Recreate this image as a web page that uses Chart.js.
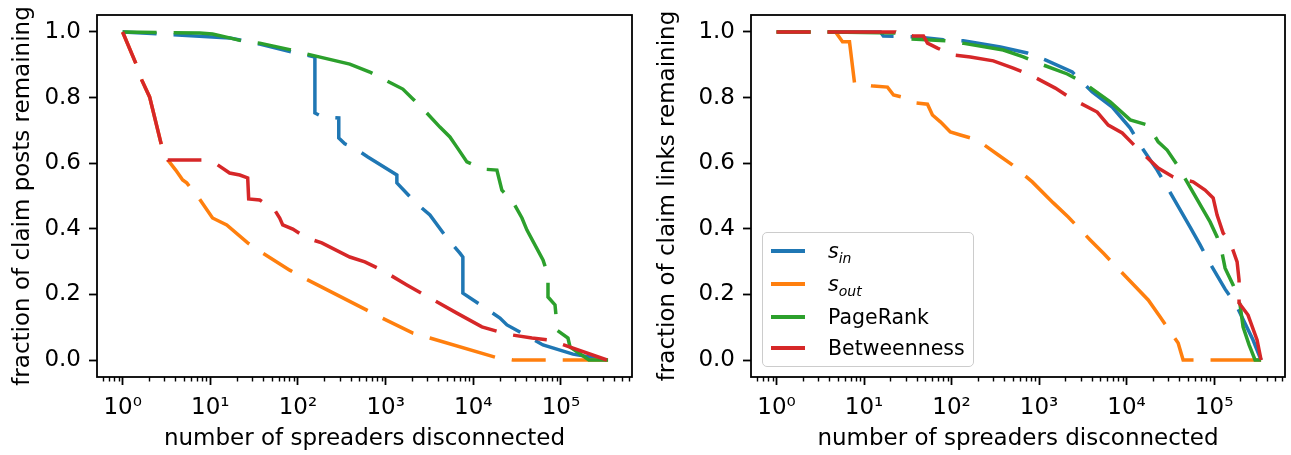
<!DOCTYPE html>
<html><head><meta charset="utf-8">
<script src="https://cdn.jsdelivr.net/npm/chart.js@4"></script>
<style>
html,body{margin:0;padding:0;background:#fff;}
#wrap{position:relative;width:1291px;height:455px;overflow:hidden;background:#fff;}
canvas{position:absolute;top:0;}
#c1{left:0;}
#c2{left:645px;}
.legend{position:absolute;left:762px;top:232px;width:212px;height:135px;border:1.5px solid #cccccc;border-radius:5px;background:rgba(255,255,255,0.8);box-sizing:border-box;font-family:'DejaVu Sans',sans-serif;font-size:20.5px;color:#000;z-index:5;}
.row{position:absolute;left:0;height:30px;width:100%;}
.sw{position:absolute;left:8px;width:34px;height:3.5px;top:-1.75px;}
.lab{position:absolute;left:65px;top:-13px;white-space:nowrap;line-height:26px;}
.lab sub{font-size:14px;vertical-align:-5px;}
</style>
</head><body>
<div id="wrap">
<canvas id="c1" width="645" height="455"></canvas>
<canvas id="c2" width="646" height="455"></canvas>
<div class="legend">
  <div class="row" style="top:18px"><div class="sw" style="background:#1f77b4"></div><div class="lab"><i>s</i><sub><i>in</i></sub></div></div>
  <div class="row" style="top:51px"><div class="sw" style="background:#ff7f0e"></div><div class="lab"><i>s</i><sub><i>out</i></sub></div></div>
  <div class="row" style="top:84px"><div class="sw" style="background:#2ca02c"></div><div class="lab">PageRank</div></div>
  <div class="row" style="top:115px"><div class="sw" style="background:#d62728"></div><div class="lab">Betweenness</div></div>
</div>
</div>
<script>
// ---- tick values / labels ----
const xTicks = [1, 10, 100, 1000, 10000, 100000];
const xTickLabels = ['10\u2070', '10\u00B9', '10\u00B2', '10\u00B3', '10\u2074', '10\u2075'];
const yTicks = [0, 0.2, 0.4, 0.6, 0.8, 1.0];
const yTickLabels = ['0.0', '0.2', '0.4', '0.6', '0.8', '1.0'];
const seriesNames = ['s_in', 's_out', 'PageRank', 'Betweenness'];

// ---- left panel: fraction of claim posts remaining ----
const postsSinX = [1, 16.6, 36.6, 84.9, 156, 156, 192, 292, 292, 342, 423, 627, 1343, 1343, 2153, 3199, 5000, 7031, 7603, 7603, 13550, 20140, 24210, 40930, 62370, 137100, 344400];
const postsSinY = [1, 0.982, 0.963, 0.939, 0.924, 0.753, 0.741, 0.738, 0.677, 0.659, 0.649, 0.619, 0.564, 0.540, 0.482, 0.442, 0.372, 0.326, 0.314, 0.204, 0.159, 0.128, 0.107, 0.073, 0.046, 0.018, 0];

const postsSoutX = [1, 1.41, 1.65, 2.03, 2.79, 3.27, 4.03, 4.84, 5.38, 7.38, 10.6, 15.4, 26.7, 39.6, 80.5, 123, 610, 906, 2046, 3199, 17660, 28310, 344400];
const postsSoutY = [1, 0.905, 0.854, 0.802, 0.652, 0.610, 0.579, 0.549, 0.540, 0.494, 0.433, 0.412, 0.357, 0.326, 0.274, 0.247, 0.152, 0.128, 0.082, 0.067, 0.009, 0, 0];

const postsPrX = [1, 7.57, 10.6, 16.6, 22.8, 36.6, 84.9, 126, 390, 661, 1033, 1570, 2046, 2951, 4159, 5408, 6501, 8453, 12880, 18580, 21180, 28310, 35890, 40930, 62370, 71120, 71120, 85510, 89950, 89950, 120200, 126800, 208900, 344400];
const postsPrY = [1, 0.997, 0.994, 0.982, 0.973, 0.966, 0.945, 0.933, 0.902, 0.878, 0.851, 0.826, 0.796, 0.753, 0.710, 0.680, 0.649, 0.604, 0.582, 0.579, 0.518, 0.482, 0.433, 0.396, 0.305, 0.259, 0.192, 0.168, 0.107, 0.091, 0.067, 0.040, 0, 0];

const postsBtX = [1, 1.41, 1.65, 2.03, 2.79, 3.10, 3.27, 7.98, 12.1, 16.6, 21.7, 26.7, 27.4, 36.6, 54.3, 61.9, 67.0, 87.3, 126, 187, 390, 579, 906, 1746, 2800, 6501, 12530, 20140, 28310, 46670, 74820, 335000];
const postsBtY = [1, 0.905, 0.854, 0.802, 0.652, 0.616, 0.610, 0.610, 0.595, 0.570, 0.564, 0.555, 0.491, 0.488, 0.457, 0.433, 0.412, 0.399, 0.372, 0.357, 0.314, 0.299, 0.274, 0.229, 0.198, 0.143, 0.101, 0.085, 0.076, 0.067, 0.061, 0];

// ---- right panel: fraction of claim links remaining ----
const linksSinX = [1, 15.4, 16.6, 40.7, 80.5, 136, 361, 733, 1178, 2393, 4046, 6855, 11000, 14290, 22340, 29040, 53210, 69180, 87700, 133600, 178300, 278600, 344400];
const linksSinY = [1, 1, 0.988, 0.985, 0.976, 0.973, 0.954, 0.936, 0.915, 0.878, 0.817, 0.771, 0.707, 0.655, 0.579, 0.527, 0.405, 0.351, 0.299, 0.216, 0.168, 0.061, 0];

const linksSoutX = [1, 4.72, 5.67, 6.81, 7.77, 12.8, 18.5, 21.7, 26.7, 38.6, 53.0, 60.4, 74.5, 96.8, 126, 197, 256, 342, 494, 836, 1453, 2153, 3838, 5408, 17660, 24210, 38820, 44260, 344400];
const linksSoutY = [1, 1, 0.970, 0.970, 0.845, 0.835, 0.832, 0.808, 0.802, 0.784, 0.780, 0.747, 0.726, 0.695, 0.686, 0.671, 0.649, 0.625, 0.595, 0.543, 0.479, 0.436, 0.366, 0.326, 0.183, 0.131, 0.052, 0, 0];

const linksPrX = [1, 4.13, 22.8, 33.9, 84.9, 133, 390, 661, 979, 2099, 3112, 6501, 11000, 17660, 22960, 29040, 37840, 89950, 108200, 123400, 133600, 164800, 198200, 214300, 251200, 293800, 344400];
const linksPrY = [1, 1, 0.997, 0.979, 0.973, 0.966, 0.945, 0.924, 0.905, 0.872, 0.848, 0.787, 0.732, 0.716, 0.665, 0.640, 0.595, 0.421, 0.375, 0.326, 0.280, 0.229, 0.168, 0.101, 0.046, 0, 0];

const linksBtX = [1, 22.8, 24.1, 36.6, 47.7, 53.0, 68.9, 102, 164, 300, 507, 794, 1531, 2271, 4616, 6166, 8913, 12530, 22960, 34040, 57540, 78890, 97500, 108200, 126800, 152400, 183200, 192800, 192800, 244300, 309700, 344400];
const linksBtY = [1, 1, 0.994, 0.988, 0.988, 0.966, 0.951, 0.930, 0.924, 0.912, 0.890, 0.869, 0.829, 0.799, 0.756, 0.716, 0.692, 0.652, 0.585, 0.558, 0.543, 0.518, 0.494, 0.442, 0.387, 0.360, 0.299, 0.244, 0.174, 0.137, 0.061, 0];

const colors = ['#1f77b4', '#ff7f0e', '#2ca02c', '#d62728'];
const FONT = "'DejaVu Sans', sans-serif";

function pts(xs, ys) { return xs.map((x, i) => ({x: x, y: ys[i]})); }

const framePlugin = {
  id: 'frame',
  afterDraw(chart) {
    const ctx = chart.ctx, a = chart.chartArea, xs = chart.scales.x;
    ctx.save();
    ctx.strokeStyle = '#000';
    ctx.lineWidth = 1.8;
    ctx.strokeRect(a.left, a.top, a.right - a.left, a.bottom - a.top);
    ctx.lineWidth = 1.4;
    ctx.beginPath();
    for (let k = -1; k <= 5; k++) {
      for (let m = 2; m <= 9; m++) {
        const v = m * Math.pow(10, k);
        if (v < xs.min || v > xs.max) continue;
        const p = Math.round(xs.getPixelForValue(v)) + 0.5;
        ctx.moveTo(p, a.bottom);
        ctx.lineTo(p, a.bottom + 4.5);
      }
    }
    ctx.stroke();
    ctx.restore();
  }
};

function makeChart(id, yWidth, rightPad, yTitle, data) {
  const datasets = data.map((d, i) => ({
    label: seriesNames[i],
    data: pts(d[0], d[1]),
    borderColor: colors[i],
    backgroundColor: colors[i],
    borderWidth: 3.5,
    borderDash: [34, 17, 68, 17],
    pointRadius: 0,
    tension: 0,
    fill: false,
    order: 4 - i
  }));
  return new Chart(document.getElementById(id), {
    type: 'line',
    data: {datasets: datasets},
    plugins: [framePlugin],
    options: {
      responsive: false,
      animation: false,
      devicePixelRatio: 1,
      layout: {padding: {left: 0, top: 15, right: rightPad, bottom: 0}},
      plugins: {legend: {display: false}, tooltip: {enabled: false}},
      scales: {
        x: {
          type: 'logarithmic',
          position: 'bottom',
          min: 0.51,
          max: 646000,
          afterBuildTicks: s => { s.ticks = xTicks.map(v => ({value: v})); },
          afterFit: s => { s.height = 78; s.paddingLeft = 0; s.paddingRight = 0; },
          ticks: {
            autoSkip: false, maxRotation: 0, minRotation: 0,
            padding: 9, color: '#000',
            font: {family: FONT, size: 23},
            callback: (v, i) => xTickLabels[i]
          },
          grid: {drawOnChartArea: false, drawTicks: true, tickLength: 8, tickWidth: 1.8, tickColor: '#000'},
          border: {display: false},
          title: {display: true, text: 'number of spreaders disconnected', color: '#000',
                  font: {family: FONT, size: 23}, padding: {top: 0, bottom: 2}}
        },
        y: {
          type: 'linear',
          min: -0.0518,
          max: 1.0518,
          afterBuildTicks: s => { s.ticks = yTicks.map(v => ({value: v})); },
          afterFit: s => { s.width = yWidth; s.paddingTop = 0; s.paddingBottom = 0; },
          ticks: {
            padding: 8, color: '#000',
            font: {family: FONT, size: 23},
            callback: (v, i) => yTickLabels[i]
          },
          grid: {drawOnChartArea: false, drawTicks: true, tickLength: 8, tickWidth: 1.8, tickColor: '#000'},
          border: {display: false},
          title: {display: true, text: yTitle, color: '#000',
                  font: {family: FONT, size: 23}, padding: {top: 9, bottom: 0}}
        }
      }
    }
  });
}

makeChart('c1', 97, 13, 'fraction of claim posts remaining', [
  [postsSinX, postsSinY], [postsSoutX, postsSoutY], [postsPrX, postsPrY], [postsBtX, postsBtY]
]);
makeChart('c2', 106, 6, 'fraction of claim links remaining', [
  [linksSinX, linksSinY], [linksSoutX, linksSoutY], [linksPrX, linksPrY], [linksBtX, linksBtY]
]);
</script>
</body></html>
